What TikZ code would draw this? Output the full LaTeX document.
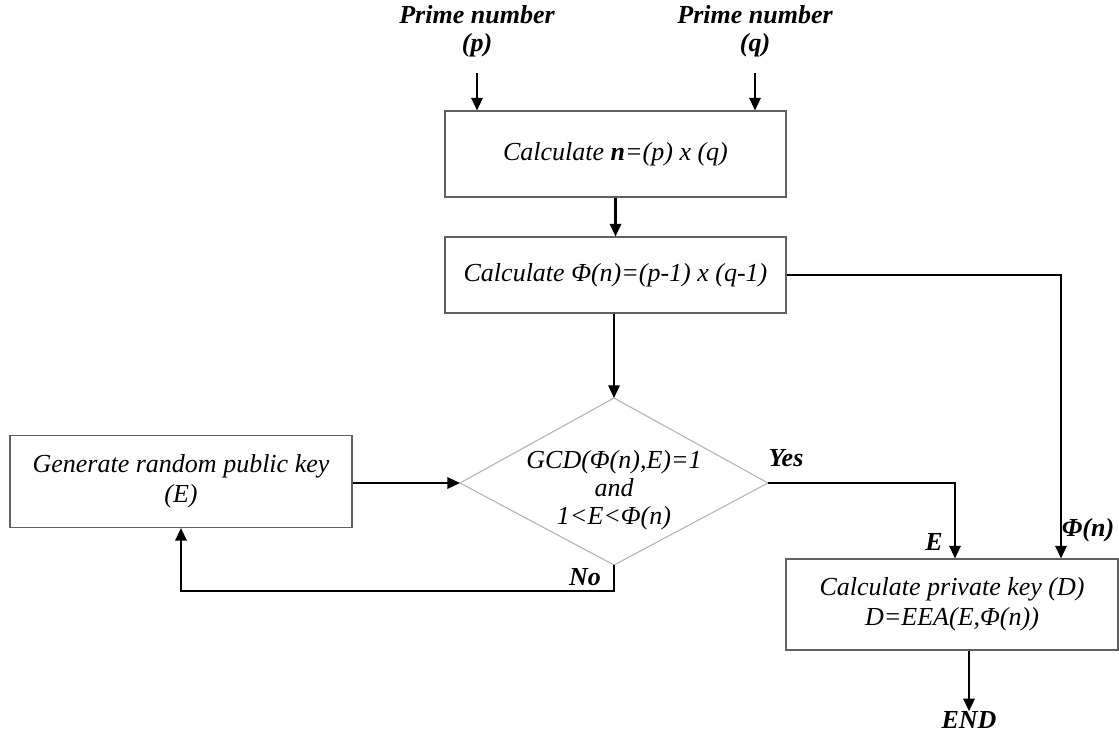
\documentclass[tikz,border=0pt]{standalone}
\usepackage{fontspec}
\setmainfont{Liberation Serif}
\usetikzlibrary{arrows.meta,calc}
\begin{document}
\begin{tikzpicture}[x=0.75pt,y=-0.75pt,
  box/.style={draw=gray!75!black, line width=0.8pt, font=\itshape\fontsize{19.5}{22.5}\selectfont, align=center, inner sep=0pt},
  arr/.style={draw=black, line width=1.7pt, -{Triangle[length=9.5pt,width=8.5pt]}},
  lab/.style={font=\bfseries\itshape\fontsize{19.5}{21}\selectfont, align=center, inner sep=0pt},
  dtxt/.style={font=\itshape\fontsize{19.5}{21}\selectfont, align=center, inner sep=0pt}
]
\useasboundingbox (0,0) rectangle (1119,733);

% boxes
\node[box, minimum width=341*0.75pt, minimum height=86*0.75pt] (b1) at (615.5,154) {Calculate \textbf{\textit{n}}=(p) x (q)};
\node[box, minimum width=341*0.75pt, minimum height=76*0.75pt] (b2) at (615.5,275) {Calculate Φ(n)=(p-1) x (q-1)};
\node[box, minimum width=342*0.75pt, minimum height=92*0.75pt] (gen) at (181,481.5) {Generate random public key\\(E)};
\node[box, minimum width=332*0.75pt, minimum height=91*0.75pt] (b3) at (952,604.5) {Calculate private key (D)\\D=EEA(E,Φ(n))};

% diamond
\coordinate (dT) at (614,398);
\coordinate (dL) at (460,483);
\coordinate (dR) at (768,483);
\coordinate (dB) at (614,565);
\draw[gray!60, line width=0.8pt] (dT) -- (dR) -- (dB) -- (dL) -- cycle;
\node[dtxt] (dtext) at (614,490) {GCD(Φ(n),E)=1\\and\\1<E<Φ(n)};

% input labels
\node[lab] (pl) at (477,31) {Prime number\\(p)};
\node[lab] (ql) at (755,31) {Prime number\\(q)};
\coordinate (pin) at (477,73);
\coordinate (qin) at (755,73);
\node[lab] (endl) at (969,720) {END};

% connector labels
\node[lab] (yes) at (786,458) {Yes};
\node[lab] (no) at (585,577) {No};
\node[lab] (el) at (934,542) {E};
\node[lab] (phil) at (1088,530) {Φ(n)};

% connectors
\draw[arr] (pin) -- (pin |- b1.north);
\draw[arr] (qin) -- (qin |- b1.north);
\draw[arr] (b1.south) -- (b2.north);
\draw[arr] (b2.south -| dT) -- (dT);
\draw[arr] (gen.east |- dL) -- (dL);
\draw[arr] (dB) -- ++(0,26) -| (gen.south);
\coordinate (ein) at (955,0);
\draw[arr] (dR) -| (ein |- b3.north);
\coordinate (phiin) at (1061,0);
\draw[arr] (b2.east) -| (phiin |- b3.north);
\coordinate (endx) at (969,0);
\draw[arr] (endx |- b3.south) -- (endl.north);
\end{tikzpicture}
\end{document}
